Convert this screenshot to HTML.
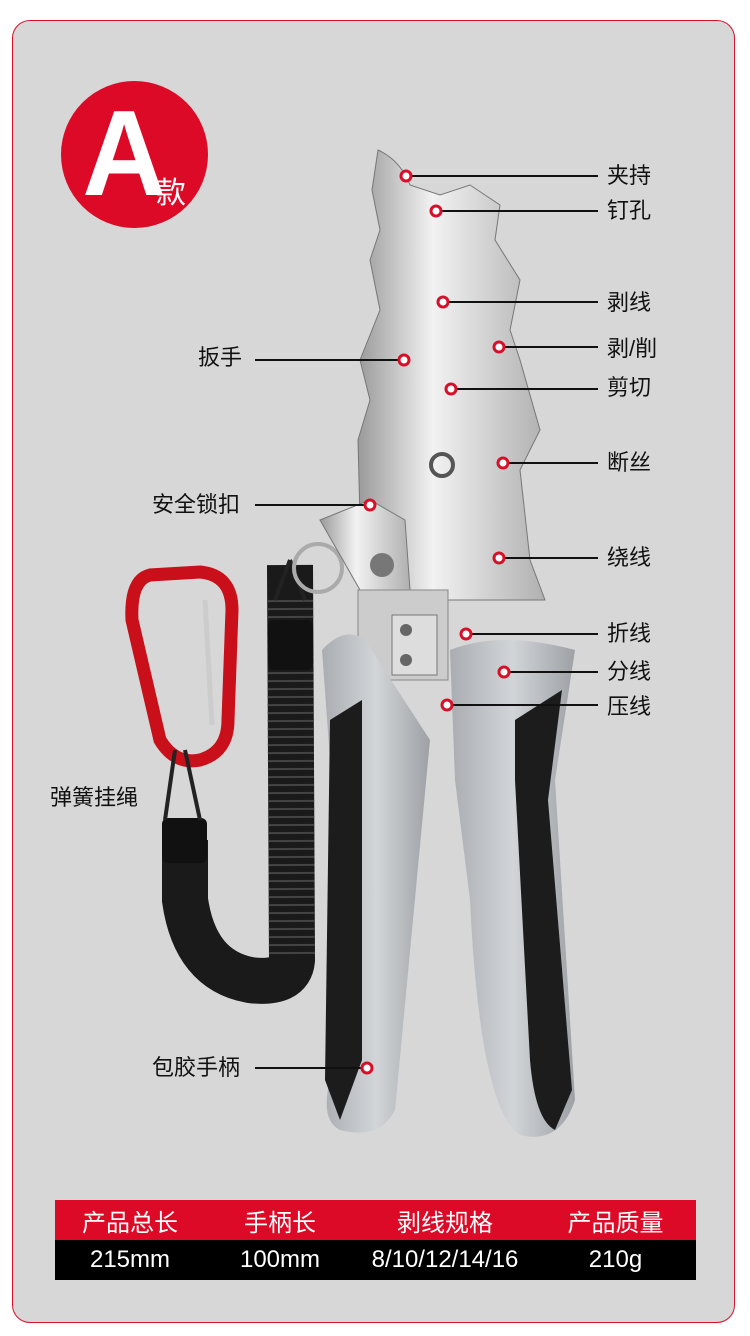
<!DOCTYPE html>
<html><head><meta charset="utf-8"><style>
body{margin:0;width:750px;height:1336px;background:#fff;position:relative;overflow:hidden;font-family:"Liberation Sans","Noto Sans CJK SC",sans-serif}
.frame{position:absolute;left:12px;top:20px;width:721px;height:1301px;border:1.5px solid #d7102a;border-radius:18px;background:#d7d7d7}
.l{position:absolute;font-size:22px;color:#111;line-height:26px}
.tbl{position:absolute;left:55px;width:641px;display:flex;color:#fff;font-size:24px;align-items:center}
.tbl div{text-align:center}
</style></head><body>
<div class="frame"></div>
<div style="position:absolute;left:61px;top:81px;width:147px;height:147px;border-radius:50%;background:#dc0a26"></div>
<div style="position:absolute;left:80px;top:92px;font-size:122px;font-weight:bold;color:#fff;line-height:122px;transform:scaleX(0.95)">A</div>
<div style="position:absolute;left:156px;top:168px;font-size:30px;color:#fff">款</div>

<svg width="750" height="1336" style="position:absolute;left:0;top:0">
<defs>
<linearGradient id="m" x1="0" x2="1"><stop offset="0" stop-color="#9a9a9a"/><stop offset=".4" stop-color="#f2f2f2"/><stop offset="1" stop-color="#b0b0b0"/></linearGradient>
<linearGradient id="g" x1="0" x2="1"><stop offset="0" stop-color="#a9adb1"/><stop offset=".5" stop-color="#d2d5d8"/><stop offset="1" stop-color="#9da1a5"/></linearGradient>
</defs>
<path d="M150 575 Q130 580 132 620 L160 740 Q175 765 200 760 Q228 752 228 720 L232 610 Q232 575 200 572 Z" fill="none" stroke="#c80f1a" stroke-width="13"/>
<line x1="205" y1="600" x2="212" y2="725" stroke="#ccc" stroke-width="5"/>
<path d="M290 565 L292 960 Q290 985 250 980 Q195 970 185 900 L185 840" fill="none" stroke="#1a1a1a" stroke-width="46"/>
<path d="M290 600 L292 960" fill="none" stroke="#444" stroke-width="46" stroke-dasharray="2 6"/>
<rect x="268" y="620" width="45" height="50" rx="6" fill="#111"/>
<rect x="162" y="818" width="45" height="45" rx="6" fill="#111"/>
<path d="M290 560 L275 600 M290 560 L305 600" stroke="#222" stroke-width="4" fill="none"/>
<path d="M175 750 L165 820 M185 750 L200 820" stroke="#222" stroke-width="4" fill="none"/>
<circle cx="318" cy="568" r="24" fill="none" stroke="#aaa" stroke-width="4"/>
<path d="M378 150 Q400 160 410 185 L440 195 L470 185 L500 205 L495 240 L520 280 L510 330 L520 360 L540 430 L520 470 L530 560 L545 600 L360 600 L360 520 L358 440 L370 400 L360 360 L380 310 L370 260 L380 230 L372 190 Z" fill="url(#m)" stroke="#777"/>
<path d="M320 520 L370 500 L405 520 L410 590 L360 590 Z" fill="url(#m)" stroke="#777"/>
<rect x="358" y="590" width="90" height="90" fill="#ccc" stroke="#888"/>
<rect x="392" y="615" width="45" height="60" fill="#ddd" stroke="#777"/>
<circle cx="406" cy="630" r="6" fill="#666"/><circle cx="406" cy="660" r="6" fill="#666"/>
<circle cx="442" cy="465" r="11" fill="none" stroke="#555" stroke-width="4"/>
<circle cx="382" cy="565" r="12" fill="#777"/>
<path d="M322 650 Q345 625 365 640 L430 740 L395 1110 Q380 1140 340 1130 Q320 1120 330 1080 L330 760 Z" fill="url(#g)"/>
<path d="M330 720 L362 700 L362 1060 L340 1120 L325 1080 Z" fill="#1c1c1c"/>
<path d="M450 650 Q500 630 575 650 L555 780 L575 1100 Q560 1145 520 1135 Q480 1110 470 900 L455 780 Z" fill="url(#g)"/>
<path d="M515 720 L562 690 L548 800 L572 1090 L555 1130 Q535 1120 530 1060 L515 780 Z" fill="#1c1c1c"/>
<g stroke="#111" stroke-width="2">
<line x1="598" y1="176" x2="410" y2="176"/><line x1="598" y1="211" x2="440" y2="211"/>
<line x1="598" y1="302" x2="447" y2="302"/><line x1="598" y1="347" x2="503" y2="347"/>
<line x1="598" y1="389" x2="455" y2="389"/><line x1="598" y1="463" x2="507" y2="463"/>
<line x1="598" y1="558" x2="503" y2="558"/><line x1="598" y1="634" x2="470" y2="634"/>
<line x1="598" y1="672" x2="508" y2="672"/><line x1="598" y1="705" x2="451" y2="705"/>
<line x1="255" y1="360" x2="400" y2="360"/><line x1="255" y1="505" x2="366" y2="505"/>
<line x1="255" y1="1068" x2="363" y2="1068"/>
</g>
<g fill="#fff" stroke="#d7102a" stroke-width="3">
<circle cx="406" cy="176" r="5"/><circle cx="436" cy="211" r="5"/><circle cx="443" cy="302" r="5"/>
<circle cx="499" cy="347" r="5"/><circle cx="451" cy="389" r="5"/><circle cx="503" cy="463" r="5"/>
<circle cx="499" cy="558" r="5"/><circle cx="466" cy="634" r="5"/><circle cx="504" cy="672" r="5"/>
<circle cx="447" cy="705" r="5"/><circle cx="404" cy="360" r="5"/><circle cx="370" cy="505" r="5"/>
<circle cx="367" cy="1068" r="5"/>
</g>
</svg>

<div class="l" style="left:607px;top:163px">夹持</div>
<div class="l" style="left:607px;top:198px">钉孔</div>
<div class="l" style="left:607px;top:290px">剥线</div>
<div class="l" style="left:607px;top:336px">剥/削</div>
<div class="l" style="left:607px;top:375px">剪切</div>
<div class="l" style="left:607px;top:450px">断丝</div>
<div class="l" style="left:607px;top:545px">绕线</div>
<div class="l" style="left:607px;top:621px">折线</div>
<div class="l" style="left:607px;top:659px">分线</div>
<div class="l" style="left:607px;top:694px">压线</div>
<div class="l" style="left:198px;top:345px">扳手</div>
<div class="l" style="left:152px;top:492px">安全锁扣</div>
<div class="l" style="left:50px;top:785px">弹簧挂绳</div>
<div class="l" style="left:152px;top:1055px">包胶手柄</div>

<div class="tbl" style="top:1200px;height:40px;background:#dc0a26">
<div style="width:150px">产品总长</div><div style="width:150px">手柄长</div><div style="width:180px">剥线规格</div><div style="width:161px">产品质量</div></div>
<div class="tbl" style="top:1240px;height:40px;background:#000">
<div style="width:150px">215mm</div><div style="width:150px">100mm</div><div style="width:180px">8/10/12/14/16</div><div style="width:161px">210g</div></div>
</body></html>
